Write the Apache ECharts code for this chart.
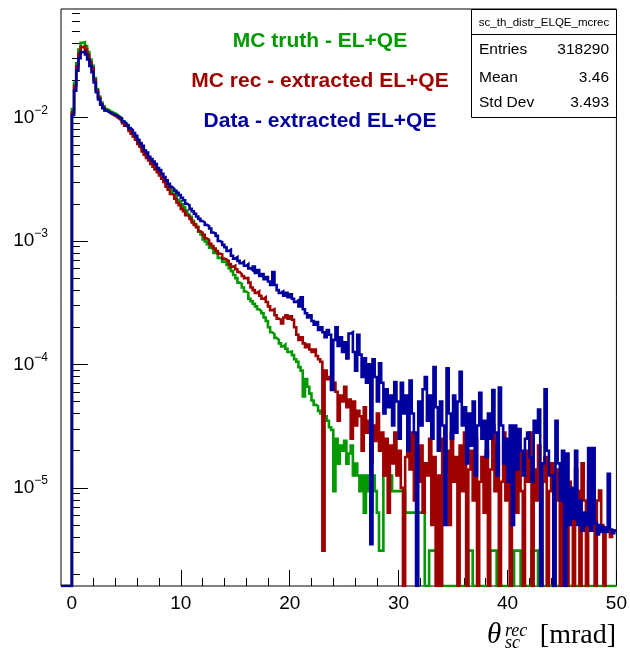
<!DOCTYPE html>
<html><head><meta charset="utf-8">
<script src="https://cdn.jsdelivr.net/npm/echarts@6/dist/echarts.min.js"></script>
<style>html,body{margin:0;padding:0;background:#fff}#c{width:630px;height:654px}</style>
</head><body><div id="c"></div>
<script>
// ---- data (histograms, bin width 0.2 mrad, first bin starts at 0 mrad; 0 = empty bin) ----
const binWidth = 0.2;
const firstBinLow = 0;
const xRange = [-1, 50];
const yRange = [1.603e-6, 0.0757];
const xMajorTicks = [0, 10, 20, 30, 40, 50];
const yMajorTicks = [1e-5, 1e-4, 1e-3, 1e-2];
const legendLabels = ['MC truth - EL+QE', 'MC rec - extracted EL+QE', 'Data - extracted EL+QE'];
const statsTitle = 'sc_th_distr_ELQE_mcrec';
const statsNames = ['Entries', 'Mean', 'Std Dev'];
const statsValues = ['318290', '3.46', '3.493'];
const axisTitleSymbol = 'θ', axisTitleSup = 'rec', axisTitleSub = 'sc', axisTitleUnit = '[mrad]';

const mcTruth = [
1.17e-2,1.91e-2,2.75e-2,3.55e-2,4.03e-2,4.07e-2,3.80e-2,3.39e-2,2.95e-2,2.63e-2,
2.09e-2,1.70e-2,1.48e-2,1.32e-2,1.23e-2,1.17e-2,1.15e-2,1.12e-2,1.10e-2,1.08e-2,
1.05e-2,1.02e-2,9.9e-3,9.3e-3,8.9e-3,8.7e-3,8.1e-3,7.6e-3,7.2e-3,6.8e-3,
6.3e-3,5.9e-3,5.6e-3,5.1e-3,4.9e-3,4.6e-3,4.35e-3,4.2e-3,3.85e-3,3.75e-3,
3.5e-3,3.35e-3,3.05e-3,2.9e-3,2.65e-3,2.6e-3,2.42e-3,2.36e-3,2.16e-3,2.1e-3,
1.98e-3,1.88e-3,1.76e-3,1.64e-3,1.57e-3,1.46e-3,1.37e-3,1.30e-3,1.19e-3,1.13e-3,
1.03e-3,9.9e-4,9.4e-4,8.8e-4,8.6e-4,8.0e-4,7.9e-4,7.3e-4,7.2e-4,6.8e-4,
6.8e-4,6.4e-4,6.0e-4,5.7e-4,5.3e-4,5.0e-4,4.6e-4,4.5e-4,4.2e-4,3.9e-4,
3.8e-4,3.4e-4,3.25e-4,3.1e-4,2.95e-4,2.8e-4,2.7e-4,2.6e-4,2.4e-4,2.25e-4,
2.0e-4,1.82e-4,1.76e-4,1.64e-4,1.58e-4,1.48e-4,1.40e-4,1.45e-4,1.34e-4,1.26e-4,
1.27e-4,1.19e-4,1.10e-4,1.05e-4,9.5e-5,8.9e-5,5.5e-5,7.6e-5,6.6e-5,5.8e-5,
5.1e-5,4.7e-5,4.6e-5,4.2e-5,4.0e-5,4.2e-5,3.8e-5,3.5e-5,3.1e-5,2.95e-5,
9.4e-6,2.5e-5,1.57e-5,2.2e-5,2.0e-5,2.4e-5,1.57e-5,1.9e-5,2.2e-5,1.26e-5,
1.57e-5,1.26e-5,9.4e-6,1.26e-5,6.3e-6,1.26e-5,9.4e-6,6.3e-6,1.26e-5,9.4e-6,
6.3e-6,3.1e-6,3.1e-6,1.26e-5,1.26e-5,1.26e-5,1.26e-5,9.4e-6,9.4e-6,9.4e-6,
9.4e-6,9.4e-6,9.4e-6,6.3e-6,6.3e-6,6.3e-6,6.3e-6,6.3e-6,6.3e-6,6.3e-6,
6.3e-6,6.3e-6,0,0,3.1e-6,3.1e-6,3.1e-6,3.1e-6,3.1e-6,0,
0,0,0,0,0,0,0,0,0,0,
0,0,3.1e-6,3.1e-6,0,0,0,0,0,0,
0,0,3.1e-6,3.1e-6,3.1e-6,0,0,0,0,0,
0,0,0,3.1e-6,3.1e-6,3.1e-6,0,0,0,0,
0,3.1e-6,3.1e-6,3.1e-6,0,0,0,0,0,0,
0,0,0,0,0,0,0,0,0,0,
0,0,0,0,0,0,0,0,0,0,
0,0,0,0,0,0,0,0,0,0
];

const mcRec = [
1.10e-2,1.80e-2,2.60e-2,3.30e-2,3.72e-2,3.76e-2,3.55e-2,3.20e-2,2.82e-2,2.50e-2,
2.02e-2,1.66e-2,1.44e-2,1.29e-2,1.20e-2,1.14e-2,1.11e-2,1.08e-2,1.05e-2,1.03e-2,
1.00e-2,9.7e-3,9.4e-3,9.0e-3,8.6e-3,8.3e-3,7.8e-3,7.4e-3,7.0e-3,6.6e-3,
6.1e-3,5.8e-3,5.3e-3,5.0e-3,4.7e-3,4.5e-3,4.2e-3,4.0e-3,3.8e-3,3.6e-3,
3.4e-3,3.2e-3,3.0e-3,2.75e-3,2.6e-3,2.4e-3,2.35e-3,2.2e-3,2.05e-3,1.95e-3,
1.82e-3,1.74e-3,1.62e-3,1.58e-3,1.51e-3,1.41e-3,1.35e-3,1.29e-3,1.20e-3,1.17e-3,
1.12e-3,1.05e-3,1.02e-3,9.5e-4,9.1e-4,8.7e-4,8.3e-4,7.9e-4,7.8e-4,7.2e-4,
7.1e-4,6.9e-4,6.5e-4,6.2e-4,6.3e-4,5.9e-4,5.6e-4,5.4e-4,5.2e-4,5.0e-4,
5.0e-4,4.6e-4,4.2e-4,4.0e-4,3.8e-4,3.9e-4,3.6e-4,3.4e-4,3.5e-4,3.2e-4,
2.95e-4,2.75e-4,2.8e-4,2.5e-4,2.35e-4,2.3e-4,2.15e-4,2.4e-4,2.5e-4,2.35e-4,
2.45e-4,2.3e-4,2.0e-4,1.74e-4,1.58e-4,1.66e-4,1.48e-4,1.38e-4,1.45e-4,1.32e-4,
1.26e-4,1.32e-4,1.17e-4,1.10e-4,1.05e-4,3.1e-6,8.9e-5,7.6e-5,7.9e-5,6.3e-5,
7.1e-5,6.0e-5,3.5e-5,5.6e-5,5.0e-5,6.6e-5,4.5e-5,5.2e-5,2.5e-5,5.0e-5,
3.2e-5,4.2e-5,3.8e-5,2.0e-5,4.5e-5,2.8e-5,3.5e-5,1.58e-5,3.2e-5,2.4e-5,
4.0e-5,2.0e-5,2.8e-5,1.26e-5,2.5e-5,6.3e-6,2.2e-5,1.58e-5,2.8e-5,1.26e-5,
2.0e-5,1.0e-5,0,1.78e-5,2.5e-5,1.41e-5,2.8e-5,7.9e-6,2.0e-5,1.12e-5,
2.2e-5,6.3e-6,1.58e-5,1.26e-5,2.5e-5,5.0e-6,1.78e-5,0,1.26e-5,0,
2.5e-5,1.41e-5,2.0e-5,5.0e-6,2.8e-5,1.12e-5,1.78e-5,0,2.2e-5,9.4e-6,
2.8e-5,0,1.41e-5,2.0e-5,7.9e-6,2.5e-5,0,1.12e-5,1.78e-5,6.3e-6,
2.0e-5,0,1.41e-5,3.2e-5,9.4e-6,2.2e-5,0,1.12e-5,2.8e-5,7.9e-6,
1.78e-5,0,1.41e-5,2.5e-5,6.3e-6,2.2e-5,9.4e-6,0,2.0e-5,1.12e-5,
2.8e-5,0,1.41e-5,7.9e-6,2.2e-5,0,1.12e-5,1.78e-5,0,9.4e-6,
1.58e-5,0,7.9e-6,1.41e-5,0,9.4e-6,1.78e-5,0,1.12e-5,6.3e-6,
0,1.41e-5,9.4e-6,0,1.58e-5,7.9e-6,0,1.12e-5,1.78e-5,9.4e-6,
0,7.9e-6,9.5e-6,5.0e-6,0,4.5e-6,4.5e-6,4.0e-6,4.5e-6,4.5e-6
];

const dataExtracted = [
1.05e-2,1.65e-2,2.40e-2,3.02e-2,3.38e-2,3.42e-2,3.25e-2,2.95e-2,2.62e-2,2.33e-2,
1.92e-2,1.60e-2,1.40e-2,1.27e-2,1.19e-2,1.14e-2,1.11e-2,1.09e-2,1.07e-2,1.05e-2,
1.03e-2,1.00e-2,9.8e-3,9.3e-3,9.0e-3,8.6e-3,8.2e-3,7.9e-3,7.5e-3,7.1e-3,
6.6e-3,6.2e-3,5.9e-3,5.4e-3,5.2e-3,4.8e-3,4.6e-3,4.4e-3,4.2e-3,3.9e-3,
3.75e-3,3.5e-3,3.3e-3,3.1e-3,2.9e-3,2.75e-3,2.65e-3,2.55e-3,2.45e-3,2.35e-3,
2.24e-3,2.14e-3,2.0e-3,1.95e-3,1.82e-3,1.74e-3,1.66e-3,1.58e-3,1.51e-3,1.45e-3,
1.41e-3,1.35e-3,1.32e-3,1.26e-3,1.17e-3,1.15e-3,1.10e-3,1.00e-3,9.8e-4,9.3e-4,
8.9e-4,8.3e-4,8.5e-4,7.6e-4,7.2e-4,7.4e-4,6.9e-4,6.6e-4,6.8e-4,6.3e-4,
6.5e-4,6.0e-4,5.8e-4,6.2e-4,5.5e-4,5.8e-4,5.2e-4,5.4e-4,4.9e-4,5.1e-4,
4.7e-4,4.4e-4,5.6e-4,4.4e-4,4.0e-4,3.8e-4,3.9e-4,3.6e-4,3.8e-4,3.5e-4,
3.7e-4,3.4e-4,3.2e-4,3.3e-4,2.95e-4,3.5e-4,2.8e-4,2.6e-4,2.4e-4,2.5e-4,
2.25e-4,2.1e-4,2.2e-4,1.9e-4,2.0e-4,1.82e-4,1.66e-4,1.9e-4,1.74e-4,6.2e-5,
1.58e-4,2.0e-4,1.41e-4,1.66e-4,1.26e-4,1.51e-4,1.12e-4,1.78e-4,1.82e-4,1.26e-4,
8.9e-5,1.74e-4,1.2e-4,7.9e-5,1.12e-4,7.1e-5,1.0e-4,3.5e-6,1.1e-4,7.9e-5,
5.0e-5,1.02e-4,7.1e-5,4.0e-5,6.3e-5,4.5e-5,5.6e-5,3.2e-5,7.2e-5,5.0e-5,
2.5e-5,7.1e-5,4.0e-5,5.6e-5,2.0e-5,7.4e-5,4.0e-5,2.8e-5,0,5.0e-5,
3.2e-5,6.3e-5,7.9e-5,3.5e-5,5.6e-5,2.5e-5,9.5e-5,4.5e-5,2.0e-5,5.0e-5,
3.2e-5,5.0e-6,9.3e-5,4.0e-5,2.5e-5,5.6e-5,2.8e-5,5.0e-5,8.7e-5,3.2e-5,
4.5e-5,1.58e-5,4.0e-5,2.2e-5,5.0e-5,1.26e-5,3.2e-5,5.9e-5,2.5e-5,3.5e-5,
1.78e-5,4.0e-5,2.5e-5,6.2e-5,2.8e-5,1.26e-5,6.5e-5,3.2e-5,1.58e-5,2.5e-5,
1.12e-5,3.2e-5,5.0e-6,3.2e-5,1.41e-5,3.0e-5,2.0e-5,1.26e-5,2.5e-5,2.8e-5,
1.78e-5,1.12e-5,3.5e-5,2.8e-5,4.3e-5,0,1.58e-5,6.3e-5,2.0e-5,1.26e-5,
1.26e-5,0,3.5e-5,1.58e-5,7.9e-6,2.0e-5,0,1.9e-5,5.0e-6,1.0e-5,
5.6e-6,2.0e-5,5.0e-6,7.9e-6,4.5e-6,6.3e-6,5.0e-6,2.1e-5,4.5e-6,2.1e-5,
5.2e-6,4.2e-6,5.0e-6,4.4e-6,4.8e-6,4.4e-6,1.3e-5,4.6e-6,4.3e-6,4.5e-6
];

// ---- presentation ----
const colors = ['#009a00', '#9e0000', '#00009e'];
const FONT = 'Liberation Sans, Arial, Helvetica, sans-serif';
const SERIF = 'Liberation Serif, Times New Roman, serif';

const xMinorTicks = [];
for (let v = xRange[0] + 1; v <= xRange[1]; v += 2) if (v % 10 !== 0) xMinorTicks.push(v);
const yMinorTicks = [];
for (let e = -6; e <= -2; e++) for (let m = 2; m <= 9; m++) {
  const v = m * Math.pow(10, e);
  if (v > yRange[0] && v < yRange[1]) yMinorTicks.push(v);
}

function histData(vals) {
  const pts = [[xRange[0], yRange[0]]];
  vals.forEach((v, i) => pts.push([firstBinLow + i * binWidth, v > 0 ? v : yRange[0]]));
  const last = vals[vals.length - 1];
  pts.push([firstBinLow + vals.length * binWidth, last > 0 ? last : yRange[0]]);
  return pts;
}

const chart = echarts.init(document.getElementById('c'), null, {renderer: 'canvas'});
const gridBox = {left: 61, top: 9, width: 556, height: 577};

const baseX = {type: 'value', min: xRange[0], max: xRange[1], position: 'bottom',
  axisLine: {show: false}, splitLine: {show: false}};
const baseY = {type: 'log', logBase: 10, min: yRange[0], max: yRange[1], position: 'left',
  axisLine: {show: false}, splitLine: {show: false}};

chart.setOption({
  animation: false,
  backgroundColor: '#fff',
  grid: Object.assign({show: true, borderColor: '#000', borderWidth: 1, backgroundColor: 'transparent'}, gridBox),
  xAxis: [
    Object.assign({}, baseX, {
      axisTick: {show: true, inside: true, length: 16, customValues: xMajorTicks, lineStyle: {color: '#000', width: 1}},
      axisLabel: {show: true, customValues: xMajorTicks, color: '#000', fontSize: 19, fontFamily: FONT, margin: 8}
    }),
    Object.assign({}, baseX, {
      axisTick: {show: true, inside: true, length: 8, customValues: xMinorTicks, lineStyle: {color: '#000', width: 1}},
      axisLabel: {show: false}
    })
  ],
  yAxis: [
    Object.assign({}, baseY, {
      axisTick: {show: true, inside: true, length: 16, customValues: yMajorTicks, lineStyle: {color: '#000', width: 1}},
      axisLabel: {show: true, customValues: yMajorTicks, margin: 13,
        formatter: v => '{b|10}{s|−' + Math.abs(Math.round(Math.log10(v))) + '}',
        rich: {
          b: {fontSize: 19, fontFamily: FONT, color: '#000', lineHeight: 26},
          s: {fontSize: 12, fontFamily: FONT, color: '#000', lineHeight: 12, verticalAlign: 'top'}
        }}
    }),
    Object.assign({}, baseY, {
      axisTick: {show: true, inside: true, length: 8, customValues: yMinorTicks, lineStyle: {color: '#000', width: 1}},
      axisLabel: {show: false}
    })
  ],
  series: [mcTruth, mcRec, dataExtracted].map((vals, k) => ({
    name: legendLabels[k], type: 'line', step: 'end', xAxisIndex: 0, yAxisIndex: 0,
    symbol: 'none', clip: true, silent: true,
    lineStyle: {color: colors[k], width: 2.6, join: 'miter'},
    data: histData(vals), z: 2 + k
  })),
  graphic: [
    ...legendLabels.map((t, k) => ({type: 'text', z: 100,
      style: {text: t, x: 320, y: [41, 81.5, 121.5][k], textAlign: 'center', textVerticalAlign: 'middle',
        font: 'bold 21px ' + FONT, fill: colors[k]}})),
    {type: 'rect', z: 100, shape: {x: 471.5, y: 9.5, width: 145, height: 108},
      style: {fill: '#fff', stroke: '#000', lineWidth: 1}},
    {type: 'line', z: 101, shape: {x1: 471.5, y1: 34.5, x2: 616.5, y2: 34.5}, style: {stroke: '#000', lineWidth: 1}},
    {type: 'text', z: 102, style: {text: statsTitle, x: 544, y: 22.5, textAlign: 'center', textVerticalAlign: 'middle',
      font: '11.5px ' + FONT, fill: '#000'}},
    ...statsNames.map((t, k) => ({type: 'text', z: 102,
      style: {text: t, x: 479, y: [50, 77.5, 103][k], textAlign: 'left', textVerticalAlign: 'middle', font: '15.5px ' + FONT, fill: '#000'}})),
    ...statsValues.map((t, k) => ({type: 'text', z: 102,
      style: {text: t, x: 609, y: [50, 77.5, 103][k], textAlign: 'right', textVerticalAlign: 'middle', font: '15.5px ' + FONT, fill: '#000'}})),
    {type: 'text', z: 102, style: {text: axisTitleSymbol, x: 487, y: 635, textAlign: 'left', textVerticalAlign: 'middle',
      font: 'italic 29px ' + SERIF, fill: '#000'}},
    {type: 'text', z: 102, style: {text: axisTitleSup, x: 505, y: 631, textAlign: 'left', textVerticalAlign: 'middle',
      font: 'italic 18px ' + SERIF, fill: '#000'}},
    {type: 'text', z: 102, style: {text: axisTitleSub, x: 505, y: 643, textAlign: 'left', textVerticalAlign: 'middle',
      font: 'italic 18px ' + SERIF, fill: '#000'}},
    {type: 'text', z: 102, style: {text: axisTitleUnit, x: 616, y: 636, textAlign: 'right', textVerticalAlign: 'middle',
      font: '28px ' + SERIF, fill: '#000'}}
  ]
});
</script></body></html>
